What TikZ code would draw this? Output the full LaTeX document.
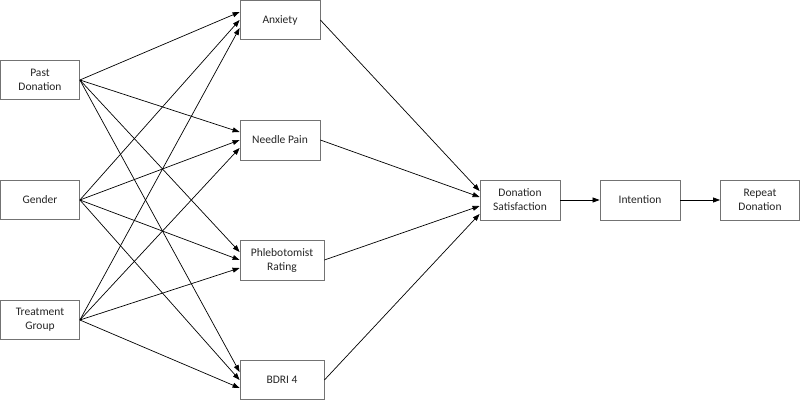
\documentclass[tikz,border=0pt]{standalone}
\usepackage{fontspec}
\setmainfont{Carlito}
\usetikzlibrary{arrows.meta}
\begin{document}
\begin{tikzpicture}[x=1pt,y=-1pt,
  box/.style={draw=black!55,line width=0.8pt,fill=white,inner sep=0pt,align=center,
    text=black!85,font=\fontsize{11.5}{14}\selectfont},
  arr/.style={-{Triangle[length=7pt,width=5pt]},line width=0.7pt,black}]
\useasboundingbox (0,0) rectangle (800,400);
% exogenous
\node[box,minimum width=79pt,minimum height=39pt] (past) at (40,80) {Past\\Donation};
\node[box,minimum width=79pt,minimum height=39pt] (gen) at (40,200) {Gender};
\node[box,minimum width=79pt,minimum height=39pt] (treat) at (40,320) {Treatment\\Group};
% mediators
\node[box,minimum width=80pt,minimum height=39pt] (anx) at (280,20) {Anxiety};
\node[box,minimum width=80pt,minimum height=40pt] (need) at (280,140) {Needle Pain};
\node[box,minimum width=84pt,minimum height=40pt] (phleb) at (282,260) {Phlebotomist\\Rating};
\node[box,minimum width=84pt,minimum height=39pt] (bdri) at (282,380) {BDRI 4};
% outcomes
\node[box,minimum width=80pt,minimum height=40pt] (sat) at (520,200) {Donation\\Satisfaction};
\node[box,minimum width=80pt,minimum height=40pt] (int) at (640,200) {Intention};
\node[box,minimum width=79pt,minimum height=40pt] (rep) at (760,200) {Repeat\\Donation};
% exogenous -> mediators
\foreach \m in {anx,need,phleb,bdri}{
  \draw[arr] (past.east) -- ([yshift=8pt]\m.west);
  \draw[arr] (gen.east) -- (\m.west);
  \draw[arr] (treat.east) -- ([yshift=-8pt]\m.west);
}
% mediators -> satisfaction
\draw[arr] (anx.east) -- ([yshift=9pt]sat.west);
\draw[arr] (need.east) -- ([yshift=3pt]sat.west);
\draw[arr] (phleb.east) -- ([yshift=-6pt]sat.west);
\draw[arr] (bdri.east) -- ([yshift=-14pt]sat.west);
% chain
\draw[arr] (sat) -- (int);
\draw[arr] (int) -- (rep);
\end{tikzpicture}
\end{document}
